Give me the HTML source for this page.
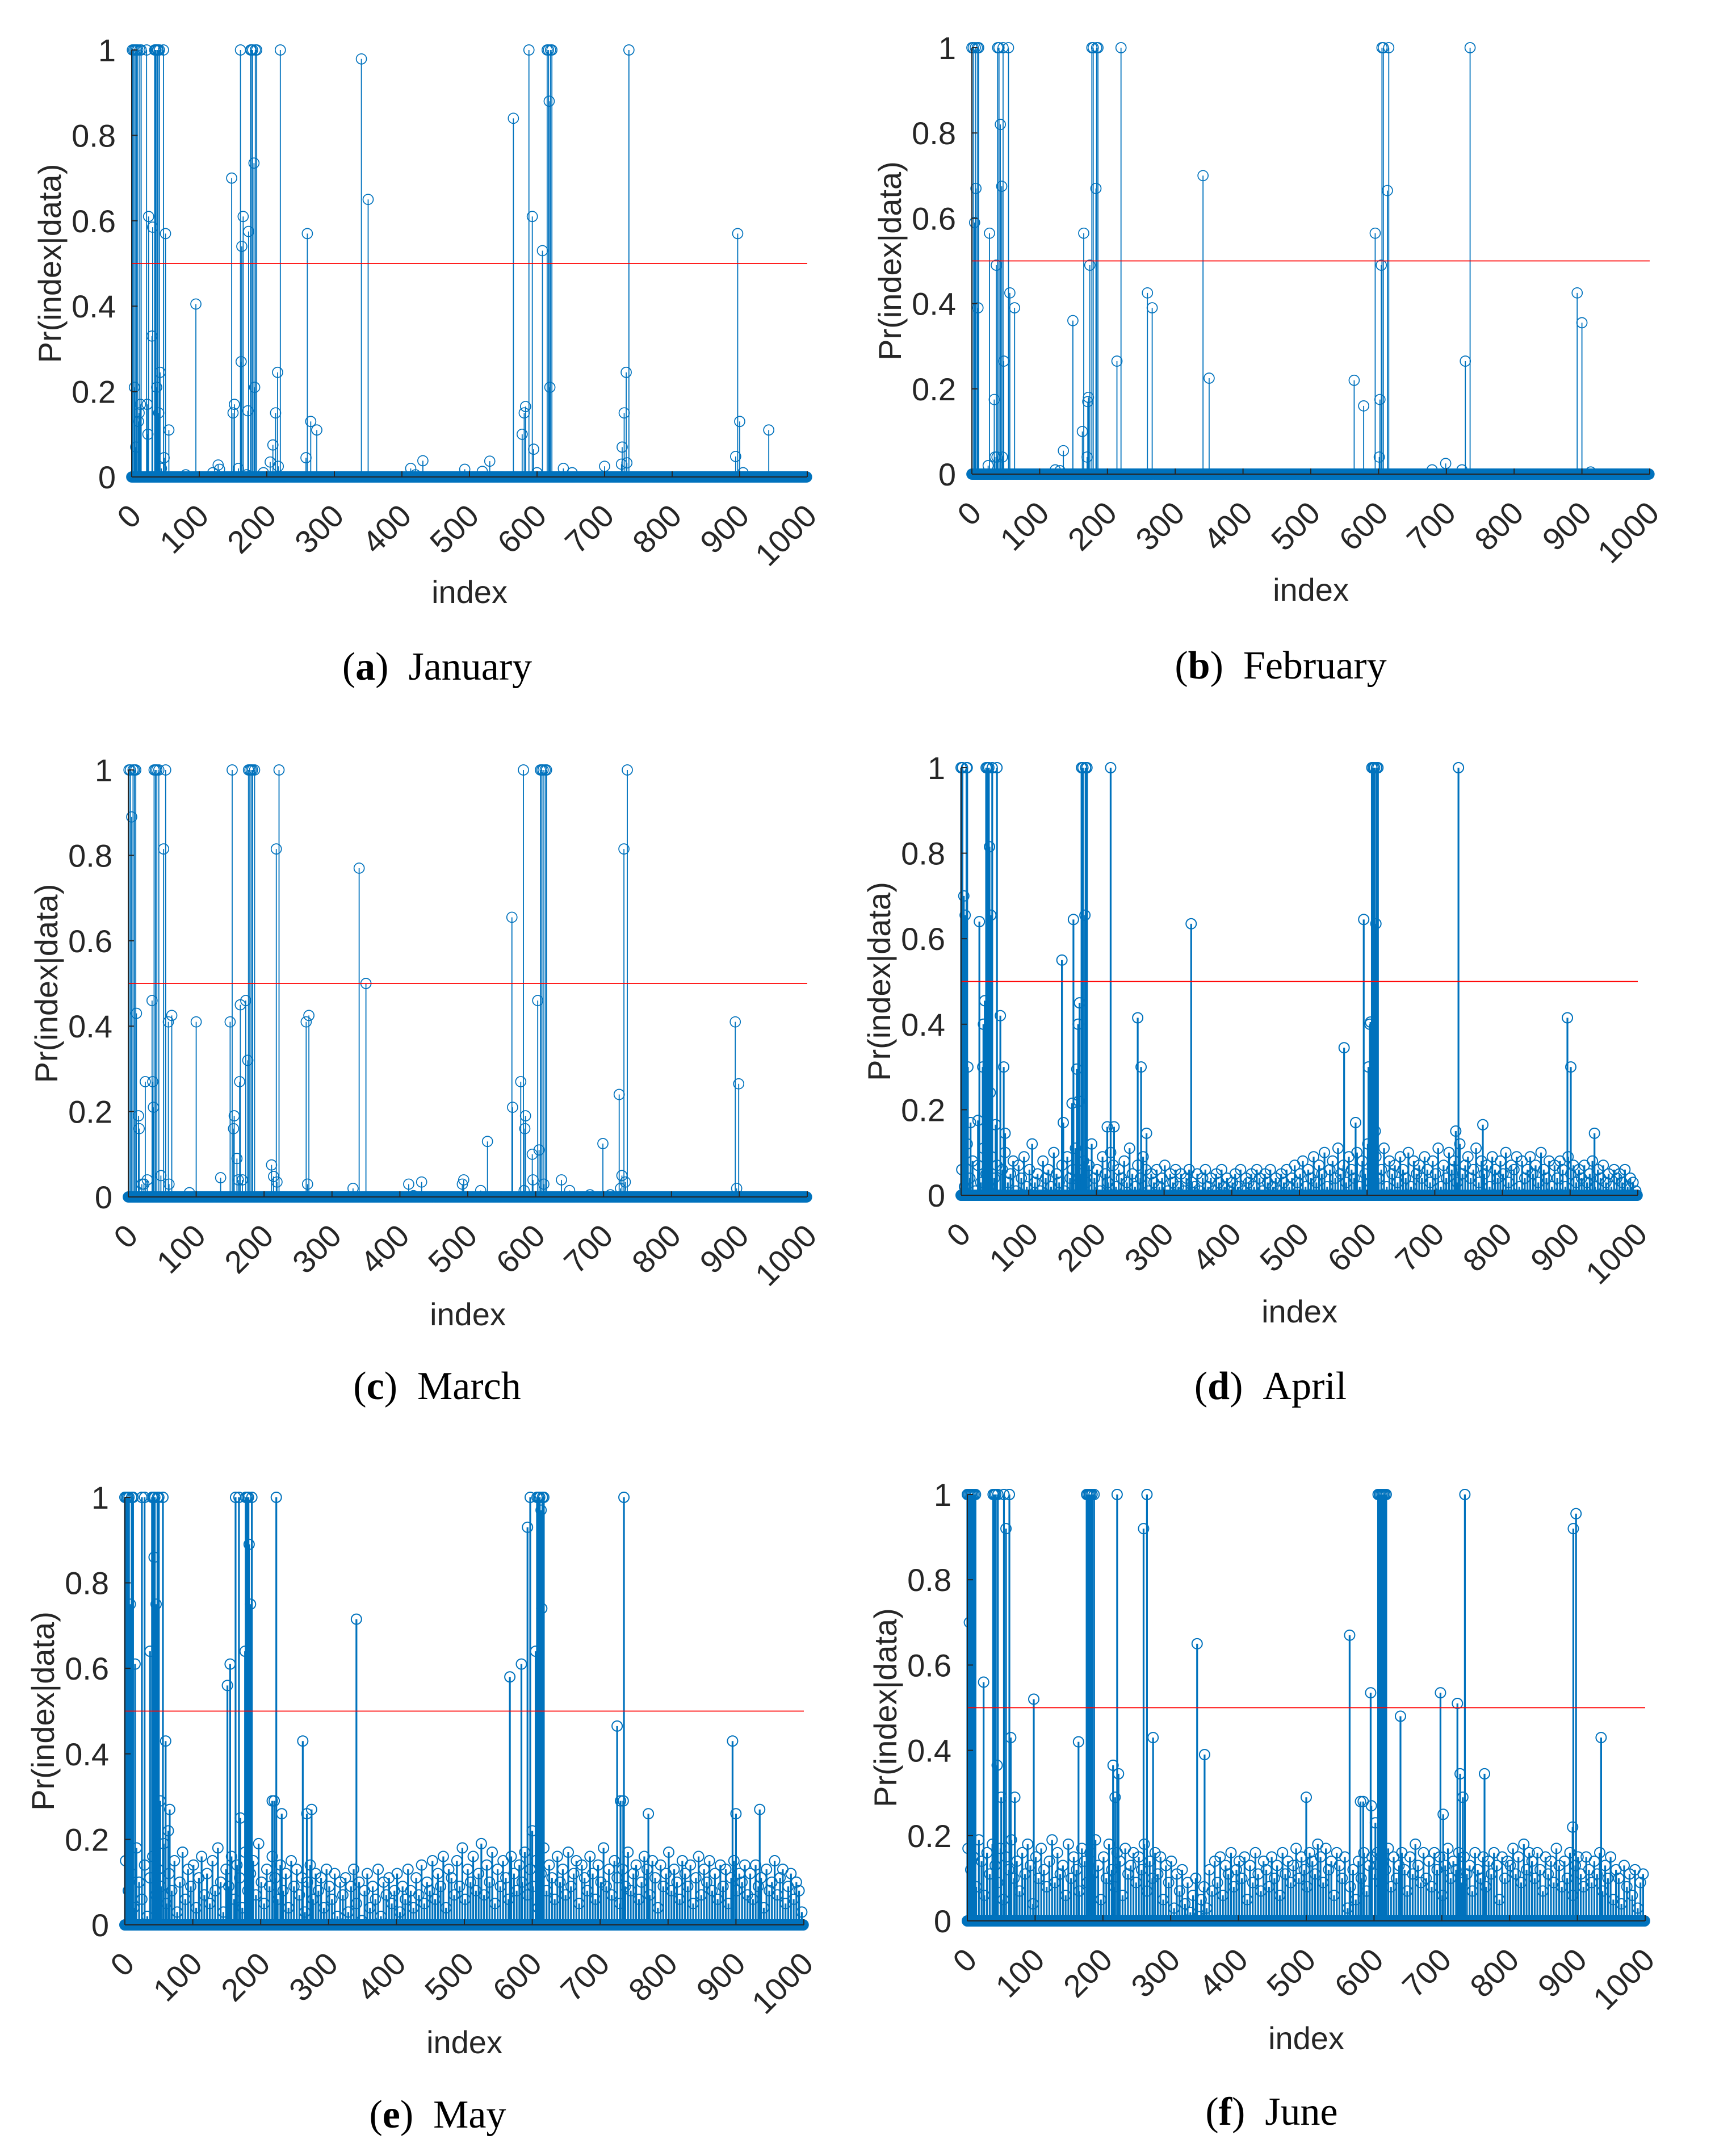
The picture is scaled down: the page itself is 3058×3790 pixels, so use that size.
<!DOCTYPE html>
<html><head><meta charset="utf-8"><style>
html,body{margin:0;padding:0;background:#fff;}
svg{display:block;}
</style></head><body>
<svg id="fig" xmlns="http://www.w3.org/2000/svg" width="3058" height="3790" viewBox="0 0 3058 3790"></svg>
<script>
// ---------- data ----------
const xTicks = [0,100,200,300,400,500,600,700,800,900,1000];
const yTicks = [0,0.2,0.4,0.6,0.8,1];
const yTickLabels = ["0","0.2","0.4","0.6","0.8","1"];
const nIndex = 1000;
const threshold = 0.5;

const janIdx = [1,3,4,5,6,7,9,10,11,12,13,14,22,23,24,25,30,31,34,35,36,37,38,39,40,41,42,44,47,48,50,55,80,95,120,128,130,148,150,152,158,161,162,163,165,170,172,173,176,177,179,181,182,183,185,195,205,209,213,216,217,220,258,260,265,274,340,350,413,420,431,493,519,530,565,578,581,583,588,593,595,600,608,615,617,618,619,620,622,639,652,700,725,726,729,732,733,736,894,897,900,905,943];
const janVal = [1,1,0.21,1,0.07,1,1,0.13,0.15,1,0.17,1,1,0.17,0.1,0.61,0.33,0.585,1,1,1,0.21,1,1,0.15,1,0.245,0.02,1,0.045,0.57,0.11,0.005,0.405,0.01,0.028,0.018,0.70,0.15,0.17,0.02,1,0.27,0.54,0.61,0.005,0.155,0.575,1,1,1,0.735,0.21,1,1,0.01,0.035,0.075,0.15,0.245,0.025,1,0.045,0.57,0.13,0.11,0.979,0.65,0.02,0.005,0.038,0.018,0.013,0.037,0.84,0.1,0.15,0.165,1,0.61,0.065,0.01,0.53,1,1,0.88,0.21,1,1,0.02,0.01,0.025,0.03,0.07,0.15,0.245,0.033,1,0.048,0.57,0.13,0.01,0.11];

const febIdx = [0,2,4,5,6,8,9,10,24,26,33,34,36,37,38,40,42,44,45,46,47,54,56,63,123,130,135,149,163,165,170,171,172,174,177,179,183,184,186,214,220,259,266,341,350,564,578,595,601,602,604,605,607,613,615,679,699,723,728,735,893,900,913];
const febVal = [1,1,0.59,1,0.67,1,0.39,1,0.02,0.565,0.175,0.04,0.49,0.04,1,1,0.82,0.675,0.04,1,0.265,1,0.425,0.39,0.01,0.008,0.055,0.36,0.1,0.565,0.04,0.17,0.18,0.49,1,1,0.67,1,1,0.265,1,0.425,0.39,0.70,0.225,0.22,0.16,0.565,0.04,0.175,0.49,1,1,0.665,1,0.01,0.025,0.01,0.265,1,0.425,0.355,0.005];

const marIdx = [1,3,5,7,9,11,12,15,16,20,23,25,28,35,36,37,38,40,42,45,48,52,55,59,60,64,90,100,136,150,153,155,156,160,162,164,165,168,173,176,177,179,181,183,186,211,214,218,219,222,262,264,266,331,340,350,413,420,432,492,494,519,529,565,566,578,582,583,584,585,595,596,603,605,607,609,611,612,614,616,638,650,680,699,710,723,725,727,730,732,735,894,896,899];
const marVal = [1,1,0.89,1,1,1,0.43,0.19,0.16,0.03,0.03,0.27,0.04,0.46,0.27,0.21,1,1,1,1,0.05,0.815,1,0.41,0.03,0.425,0.01,0.41,0.045,0.41,1,0.16,0.19,0.09,0.04,0.27,0.45,0.04,0.46,0.32,1,1,1,1,1,0.075,0.048,0.815,0.035,1,0.41,0.03,0.425,0.02,0.77,0.5,0.03,0.003,0.035,0.03,0.04,0.015,0.13,0.655,0.21,0.27,1,0.015,0.16,0.19,0.1,0.04,0.46,0.11,1,1,1,0.03,1,1,0.04,0.015,0.005,0.125,0.005,0.24,0.02,0.05,0.815,0.035,1,0.41,0.02,0.265];

const aprIdx = [0,2,4,6,8,9,10,14,25,27,32,33,35,37,39,41,42,43,44,46,51,53,58,63,65,149,151,164,166,171,173,174,175,178,180,183,184,186,216,221,226,261,266,274,340,566,583,595,602,604,605,607,609,611,612,613,614,616,731,735,771,896,901,936];
const aprVal = [1,1,0.70,0.655,1,1,0.30,0.17,0.175,0.64,0.30,0.40,0.455,1,1,1,0.815,0.24,0.655,1,0.165,1,0.42,0.30,0.145,0.55,0.17,0.215,0.645,0.295,0.40,0.22,0.45,1,1,0.655,1,1,0.16,1,0.16,0.415,0.30,0.145,0.635,0.345,0.17,0.645,0.30,0.40,0.405,1,1,1,0.15,0.635,1,1,0.15,1,0.165,0.415,0.30,0.145];
const aprNoise = [.06,.02,.12,.04,.08,.01,.07,.03,.11,.05,.02,.09,.04,.07,.00,.06,.10,.03,.05,.08,.01,.07,.04,.09,.02,.06,.12,.03,.05,.01,.08,.04,.06,.02,.10,.05,.03,.07,.01,.09,.04,.06,.11,.02,.05,.08,.03,.07,.12,.04,.06,.01,.09,.05,.03,.10,.07,.02,.06,.04,.08,.03,.11,.05,.02,.07,.04,.09,.06,.01,.05,.03,.06,.02,.04,.07,.01,.05,.03,.06,.02,.05,.01,.04,.06,.03,.02,.05,.01,.04,.06,.02,.04,.01,.05,.03,.06,.02,.04,.01,.03,.05,.02,.06,.01,.04,.03,.05,.02,.06,.04,.01,.05,.03,.06,.02,.04,.01,.05,.03,.06,.02,.04,.07,.03,.05,.08,.02,.06,.04,.09,.03,.07,.05,.10,.02,.06,.08,.04,.11,.05,.07,.03,.09,.06,.04,.10,.02,.08,.05,.12,.03,.07,.09,.04,.06,.11,.02,.08,.05,.07,.03,.09,.06,.04,.10,.02,.08,.05,.07,.04,.09,.06,.03,.08,.05,.11,.02,.07,.04,.10,.06,.08,.03,.12,.05,.07,.09,.04,.06,.11,.03,.08,.05,.07,.02,.09,.06,.04,.08,.05,.10,.03,.07,.06,.09,.02,.08,.04,.06,.09,.05,.07,.03,.10,.06,.04,.08,.02,.07,.04,.08,.06,.02,.09,.05,.07,.03,.06,.04,.07,.03,.05,.08,.02,.06,.04,.07,.03,.05,.02,.06,.04,.05,.03,.06,.02,.04,.03,.01];

const mayIdx = [0,2,4,6,8,10,12,15,25,29,37,40,42,43,44,46,48,50,52,56,60,64,66,151,155,163,168,170,177,178,180,182,183,185,187,217,220,223,231,262,268,275,341,567,584,593,597,600,605,607,609,611,613,614,615,617,725,730,734,735,771,895,900,935];
const mayVal = [1,1,1,1,0.75,1,1,0.61,1,1,0.64,1,1,0.86,1,0.75,1,1,0.29,1,0.43,0.22,0.27,0.56,0.61,1,1,0.25,0.64,1,1,1,0.89,0.75,1,0.29,0.29,1,0.26,0.43,0.26,0.27,0.715,0.58,0.61,0.93,1,0.22,0.64,1,1,1,0.97,0.74,1,1,0.465,0.29,0.29,1,0.26,0.43,0.26,0.27];
const mayNoise = [.15,.08,.12,.04,.18,.10,.06,.14,.02,.11,.16,.07,.13,.09,.19,.05,.12,.08,.15,.03,.10,.17,.06,.13,.09,.14,.04,.11,.16,.07,.12,.05,.15,.08,.18,.10,.03,.13,.09,.16,.06,.14,.11,.04,.17,.08,.12,.15,.07,.19,.10,.05,.13,.09,.16,.11,.06,.14,.08,.12,.04,.15,.09,.13,.07,.11,.03,.10,.14,.06,.12,.08,.11,.04,.13,.09,.06,.12,.02,.10,.07,.11,.03,.09,.13,.05,.10,.01,.08,.12,.04,.09,.06,.13,.02,.10,.07,.11,.05,.08,.12,.03,.09,.06,.13,.08,.04,.11,.07,.14,.05,.10,.08,.15,.06,.12,.09,.16,.04,.13,.11,.07,.15,.09,.18,.06,.13,.10,.16,.08,.12,.19,.07,.14,.10,.17,.05,.13,.09,.15,.11,.06,.16,.12,.08,.14,.10,.17,.07,.13,.09,.15,.04,.12,.18,.08,.14,.11,.06,.16,.10,.13,.07,.17,.09,.12,.15,.05,.14,.11,.08,.16,.12,.06,.14,.10,.18,.09,.13,.07,.15,.11,.05,.13,.09,.17,.08,.12,.14,.06,.10,.16,.13,.07,.15,.11,.04,.14,.09,.12,.17,.08,.13,.10,.06,.15,.12,.09,.14,.05,.11,.16,.07,.13,.10,.15,.08,.12,.06,.14,.09,.13,.05,.11,.15,.08,.12,.10,.14,.07,.12,.06,.14,.09,.11,.04,.13,.08,.10,.15,.07,.11,.13,.05,.09,.12,.06,.10,.08,.03];

const junIdx = [0,2,3,4,6,8,10,12,24,38,40,42,44,45,50,54,57,62,64,70,98,164,176,178,180,182,184,187,215,218,221,223,260,265,274,339,350,500,564,580,584,595,596,602,606,608,610,612,614,616,618,639,698,702,723,727,731,734,763,893,894,898,935];
const junVal = [1,1,0.70,1,1,1,1,1,0.56,1,1,1,0.365,1,0.29,1,0.92,1,0.43,0.29,0.52,0.42,1,1,1,1,1,1,0.365,0.29,1,0.345,0.92,1,0.43,0.65,0.39,0.29,0.67,0.28,0.28,0.535,0.27,0.23,1,1,1,1,1,1,1,0.48,0.535,0.25,0.51,0.345,0.29,1,0.345,0.22,0.92,0.955,0.43];
const junNoise = [.17,.12,.15,.08,.19,.14,.06,.16,.11,.18,.13,.09,.17,.05,.15,.12,.19,.10,.14,.07,.16,.11,.18,.13,.04,.15,.10,.17,.12,.08,.14,.19,.09,.16,.11,.13,.06,.18,.10,.15,.12,.07,.17,.14,.09,.16,.11,.19,.13,.05,.15,.10,.18,.12,.08,.16,.14,.06,.17,.11,.13,.16,.09,.15,.12,.18,.07,.14,.10,.16,.11,.15,.05,.13,.09,.14,.03,.11,.07,.12,.04,.09,.02,.06,.10,.01,.05,.08,.03,.12,.07,.14,.09,.15,.06,.13,.11,.16,.08,.12,.14,.10,.15,.05,.13,.09,.16,.11,.07,.14,.12,.08,.15,.10,.13,.06,.16,.11,.14,.09,.13,.17,.10,.15,.12,.08,.16,.14,.11,.18,.15,.09,.17,.12,.14,.06,.16,.13,.10,.15,.03,.08,.12,.05,.14,.10,.16,.07,.13,.15,.11,.16,.09,.14,.12,.17,.08,.15,.10,.13,.16,.12,.07,.15,.11,.18,.13,.09,.16,.10,.14,.08,.16,.12,.15,.06,.13,.17,.10,.14,.12,.16,.09,.15,.11,.13,.07,.16,.12,.10,.15,.08,.14,.11,.16,.13,.05,.15,.10,.14,.13,.17,.11,.15,.09,.18,.12,.16,.14,.10,.16,.12,.07,.15,.11,.14,.09,.17,.13,.08,.14,.10,.16,.06,.13,.15,.11,.08,.15,.12,.09,.14,.11,.16,.07,.13,.10,.15,.05,.12,.10,.04,.13,.08,.11,.06,.12,.03,.09,.11];

// ---------- layout ----------
const panels = [
  {key:'january', letter:'a', month:'January', idx:janIdx, val:janVal, noise:null, x0:232, x1:1422, y1:88, y0:840, capX:770, capY:1197, idxY:1062},
  {key:'february', letter:'b', month:'February', idx:febIdx, val:febVal, noise:null, x0:1712, x1:2906, y1:84, y0:835, capX:2256, capY:1195, idxY:1058},
  {key:'march', letter:'c', month:'March', idx:marIdx, val:marVal, noise:null, x0:226, x1:1422, y1:1356, y0:2108, capX:770, capY:2464, idxY:2334},
  {key:'april', letter:'d', month:'April', idx:aprIdx, val:aprVal, noise:aprNoise, x0:1693, x1:2885, y1:1352, y0:2105, capX:2238, capY:2464, idxY:2329},
  {key:'may', letter:'e', month:'May', idx:mayIdx, val:mayVal, noise:mayNoise, x0:220, x1:1416, y1:2637, y0:3390, capX:771, capY:3747, idxY:3616},
  {key:'june', letter:'f', month:'June', idx:junIdx, val:junVal, noise:junNoise, x0:1704, x1:2898, y1:2632, y0:3383, capX:2240, capY:3742, idxY:3609}
];

const NS = 'http://www.w3.org/2000/svg';
const svg = document.getElementById('fig');
const BLUE = '#0072BD';
function mk(tag, attrs, parent){
  const e = document.createElementNS(NS, tag);
  for (const k in attrs) e.setAttribute(k, attrs[k]);
  parent.appendChild(e);
  return e;
}

panels.forEach(p => {
  const sx = v => p.x0 + (v / nIndex) * (p.x1 - p.x0);
  const sy = v => p.y0 - v * (p.y0 - p.y1);
  const g = mk('g', {}, svg);
  
  

  const pts = [];
  for (let i = 0; i < nIndex; i++) pts.push([i, 0]);
  if (p.noise) p.noise.forEach((v, k) => pts.push([k * 4 + 1, v]));
  p.idx.forEach((ix, k) => pts.push([ix, p.val[k]]));

  const sw = p.noise ? 3.2 : 1.8;
  const stems = mk('g', {stroke: BLUE, 'stroke-width': sw}, g);
  
  
  const marks = mk('g', {stroke: BLUE, 'stroke-width': p.noise ? 2 : 1.7, fill: 'none'}, g);
  
  
  pts.forEach(([ix, v]) => {
    if (v > 0) {
      const l = mk('line', {x1: sx(ix), x2: sx(ix), y1: sy(0), y2: sy(v)}, stems);
      
      
    }
    const c = mk('circle', {cx: sx(ix), cy: sy(v), r: 9}, marks);
    
    
  });

  const th = mk('line', {x1: sx(0), x2: sx(nIndex), y1: sy(threshold), y2: sy(threshold), stroke: '#ff0000', 'stroke-width': 1.8}, g);
  
  

  const ax = mk('g', {stroke: '#262626', 'stroke-width': 2}, g);
  
  
  mk('line', {x1: p.x0, x2: p.x0, y1: p.y1, y2: p.y0}, ax);
  mk('line', {x1: p.x0, x2: p.x1, y1: p.y0, y2: p.y0}, ax);
  yTicks.forEach((t, k) => {
    mk('line', {x1: p.x0, x2: p.x0 + 10, y1: sy(t), y2: sy(t)}, ax);
    const tx = mk('text', {x: p.x0 - 28, y: sy(t) + 20, 'text-anchor': 'end', 'font-family': 'Liberation Sans, Arial, sans-serif', 'font-size': 56, fill: '#262626'}, g);
    tx.textContent = yTickLabels[k];
    
    
  });
  xTicks.forEach(t => {
    mk('line', {x1: sx(t), x2: sx(t), y1: p.y0, y2: p.y0 - 10}, ax);
    const X = sx(t) + 20, Y = p.y0 + 72;
    const tx = mk('text', {x: X, y: Y, 'text-anchor': 'end', transform: 'rotate(-45 ' + X + ' ' + Y + ')', 'font-family': 'Liberation Sans, Arial, sans-serif', 'font-size': 56, fill: '#262626'}, g);
    tx.textContent = String(t);
    
    
  });

  const yl = mk('text', {x: 0, y: 0, 'text-anchor': 'middle', transform: 'translate(' + (p.x0 - 125) + ',' + ((p.y0 + p.y1) / 2) + ') rotate(-90)', 'font-family': 'Liberation Sans, Arial, sans-serif', 'font-size': 56, fill: '#262626'}, g);
  yl.textContent = 'Pr(index|data)';
  
  
  const xl = mk('text', {x: (p.x0 + p.x1) / 2, y: p.idxY, 'text-anchor': 'middle', 'font-family': 'Liberation Sans, Arial, sans-serif', 'font-size': 56, fill: '#262626'}, g);
  xl.textContent = 'index';
  
  

  const cap = mk('text', {x: p.capX, y: p.capY, 'text-anchor': 'middle', 'font-family': 'Liberation Serif, Times New Roman, serif', 'font-size': 70, fill: '#000'}, g);
  
  
  const t1 = mk('tspan', {}, cap); t1.textContent = '(';
  const t2 = mk('tspan', {'font-weight': 'bold'}, cap); t2.textContent = p.letter;
  const t3 = mk('tspan', {}, cap); t3.textContent = ')\u2002' + p.month;
});
</script>
</body></html>
